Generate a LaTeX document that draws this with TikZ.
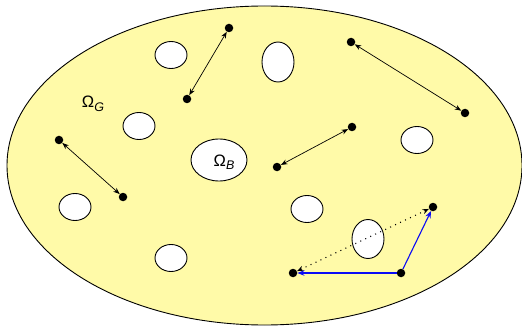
\documentclass[tikz,border=0pt]{standalone}
\usepackage{fontspec}
\setmainfont{Liberation Sans}
\usetikzlibrary{shapes.geometric,arrows.meta}
\definecolor{domain}{RGB}{255,250,168}
\definecolor{pathblue}{RGB}{10,10,245}
\newcommand{\omsub}[1]{Ω\raisebox{-3.5pt}{\fontsize{12.5}{14}\selectfont\itshape #1}}
\tikzset{
  hole/.style={ellipse,draw=black,fill=white,line width=0.9pt,inner sep=0pt,minimum width=32pt,minimum height=27pt},
  dot/.style={circle,fill=black,inner sep=0pt,minimum size=8.5pt},
  pair/.style={line width=0.7pt,{Stealth[length=6.5pt,width=5pt]}-{Stealth[length=6.5pt,width=5pt]}},
  bluearrow/.style={line width=1.1pt,draw=pathblue,-{Stealth[length=7pt,width=5.5pt]}},
  dotline/.style={line width=1.1pt,dash pattern=on 1pt off 4.5pt,{Stealth[length=6.5pt,width=5pt]}-{Stealth[length=6.5pt,width=5pt]}},
  lab/.style={font=\fontsize{16.5}{18}\selectfont,inner sep=0pt}
}
\begin{document}
\begin{tikzpicture}[x=1pt,y=-1pt]
\useasboundingbox (0,0) rectangle (522,326);
\draw[fill=domain,line width=0.9pt] (264.5,165.5) ellipse [x radius=257.5,y radius=159.5];
% holes
\node[hole] (h1) at (171,55) {};
\node[hole,minimum height=40pt] (h2) at (278,62) {};
\node[hole] (h3) at (139,126) {};
\node[hole,minimum width=56pt,minimum height=42pt] (h4) at (219,160) {};
\node[hole] (h5) at (417,140) {};
\node[hole] (h6) at (75,207) {};
\node[hole] (h7) at (307,209) {};
\node[hole,minimum height=39pt] (h8) at (368,239) {};
\node[hole] (h9) at (171,258) {};
% labels
\node[lab] (lg) at (93,104) {\omsub{G}};
\node[lab] (lb) at (224,162) {\omsub{B}};
% dots
\node[dot] (a1) at (229,28) {};
\node[dot] (a2) at (187,99) {};
\node[dot] (b1) at (351,42) {};
\node[dot] (b2) at (465,113) {};
\node[dot] (c1) at (352,127) {};
\node[dot] (c2) at (277,167) {};
\node[dot] (d1) at (59,140) {};
\node[dot] (d2) at (123,197) {};
\node[dot] (e1) at (433,207) {};
\node[dot] (e2) at (293,273) {};
\node[dot] (e3) at (401,273) {};
% connectors
\draw[pair] (a1) -- (a2);
\draw[pair] (b1) -- (b2);
\draw[pair] (c1) -- (c2);
\draw[pair] (d1) -- (d2);
\draw[dotline] (e2) -- (e1);
\draw[bluearrow] (e3) -- (e2);
\draw[bluearrow] (e3) -- (e1);
\end{tikzpicture}
\end{document}
